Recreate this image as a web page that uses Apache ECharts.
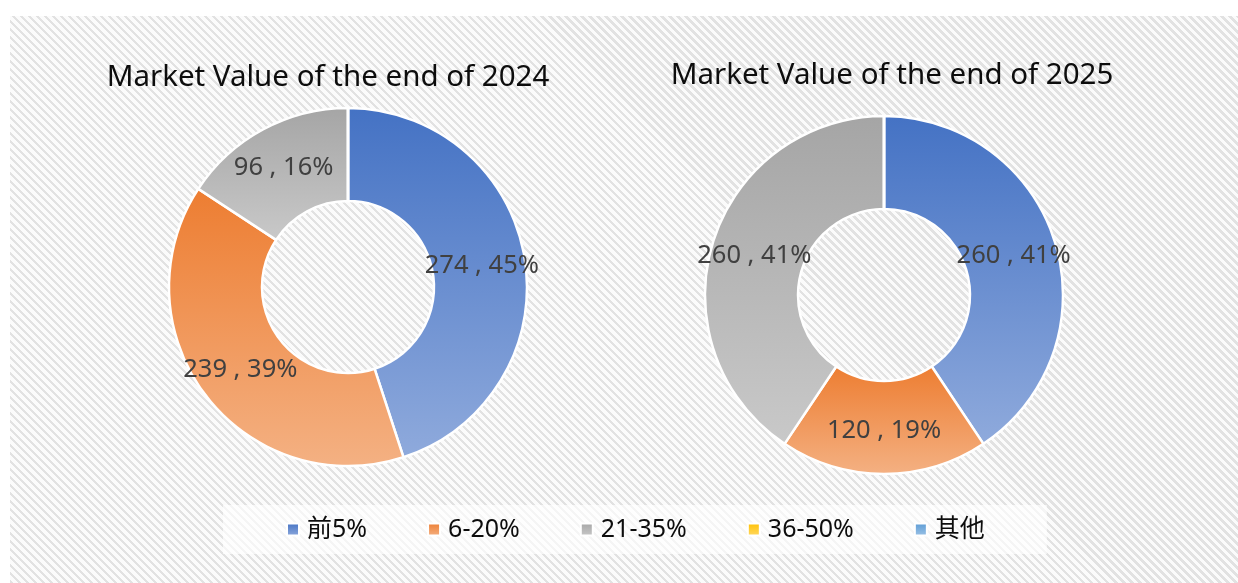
<!DOCTYPE html>
<html>
<head>
<meta charset="utf-8">
<title>Market Value</title>
<script src="https://cdn.jsdelivr.net/npm/echarts@6/dist/echarts.min.js"></script>
<style>
  html, body { margin: 0; padding: 0; background: #ffffff; }
  .wrap { position: relative; width: 1238px; height: 583px; }
  .hatch {
    position: absolute; left: 10px; top: 16px; width: 1228px; height: 567px;
    background: repeating-linear-gradient(45deg, #e2e2e2 0px, #e2e2e2 2.4px, #fbfbfb 2.4px, #fbfbfb 5.66px);
  }
  #chart { position: absolute; left: 0; top: 0; width: 1238px; height: 583px; }
</style>
</head>
<body>
<div class="wrap">
  <div class="hatch"></div>
  <div id="chart"></div>
</div>
<script>
// data
const categories = ['前5%', '6-20%', '21-35%', '36-50%', '其他'];
const values2024 = [274, 239, 96, 0, 0];
const values2025 = [260, 120, 260, 0, 0];
const titles = ['Market Value of the end of 2024', 'Market Value of the end of 2025'];

// colours (top of slice -> bottom of slice)
const colorTop = ['#4472C4', '#ED7D31', '#A5A5A5', '#FFC000', '#5B9BD5'];
const colorBottom = ['#8FAADC', '#F4B183', '#C9C9C9', '#FFD966', '#9DC3E6'];

const fontLatin = '"Noto Sans", "Noto Sans CJK TC", sans-serif';

function grad(i) {
  return new echarts.graphic.LinearGradient(0, 0, 0, 1, [
    { offset: 0, color: colorTop[i] },
    { offset: 1, color: colorBottom[i] }
  ]);
}

function buildData(values) {
  return categories.map(function (name, i) {
    const item = {
      name: name,
      value: values[i],
      itemStyle: { color: grad(i) }
    };
    if (values[i] === 0) {
      item.label = { show: false };
      item.labelLine = { show: false };
    }
    return item;
  });
}

function pieSeries(values, center) {
  return {
    type: 'pie',
    center: center,
    radius: [86, 179],
    startAngle: 90,
    clockwise: true,
    avoidLabelOverlap: false,
    percentPrecision: 2,
    silent: true,
    itemStyle: { borderColor: '#ffffff', borderWidth: 2.5 },
    label: {
      show: true,
      position: 'inside',
      color: '#404040',
      fontSize: 25.5,
      fontFamily: fontLatin,
      formatter: function (p) {
        return p.value + ' , ' + Math.round(p.percent) + '%';
      }
    },
    labelLine: { show: false },
    data: buildData(values)
  };
}

const myChart = echarts.init(document.getElementById('chart'), null, { renderer: 'canvas' });

const option = {
  backgroundColor: 'transparent',
  animation: false,
  title: [
    {
      text: titles[0],
      left: 323,
      top: 58,
      textAlign: 'center',
      textStyle: { fontSize: 29.5, fontWeight: 'normal', color: '#0d0d0d', fontFamily: fontLatin }
    },
    {
      text: titles[1],
      left: 887,
      top: 56,
      textAlign: 'center',
      textStyle: { fontSize: 29.5, fontWeight: 'normal', color: '#0d0d0d', fontFamily: fontLatin }
    }
  ],
  legend: {
    data: categories,
    left: 223,
    top: 505,
    orient: 'horizontal',
    padding: [12, 62, 12, 63],
    itemGap: 60,
    itemWidth: 12,
    itemHeight: 12,
    icon: 'rect',
    backgroundColor: 'rgba(255,255,255,0.65)',
    selectedMode: false,
    textStyle: { fontSize: 25, color: '#0d0d0d', fontFamily: fontLatin, padding: [0, 0, 0, 3] }
  },
  series: [
    pieSeries(values2024, [348, 287]),
    pieSeries(values2025, [884, 295])
  ]
};

myChart.setOption(option);
window.addEventListener('resize', function () {
  myChart.resize();
});
</script>
</body>
</html>
